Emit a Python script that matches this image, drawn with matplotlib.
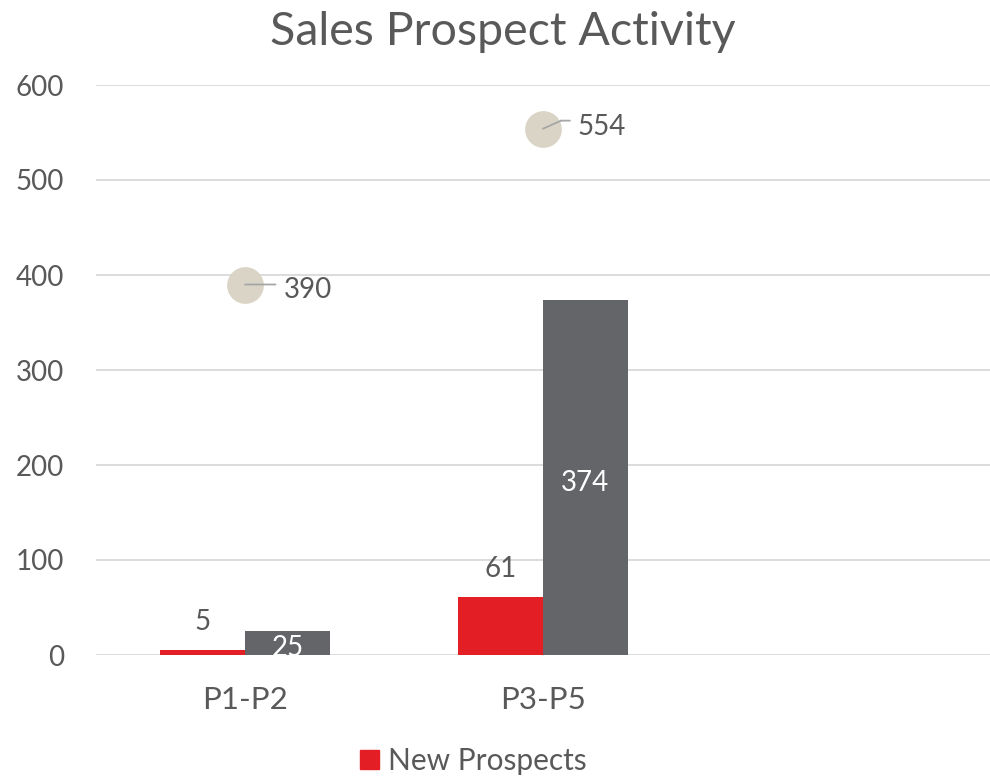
import matplotlib
matplotlib.use("Agg")
import matplotlib.pyplot as plt
from matplotlib.patches import Patch
from matplotlib.transforms import offset_copy
import numpy as np

plt.rcParams['font.family'] = ['Lato', 'DejaVu Sans']

categories = ["P1-P2", "P3-P5", ""]
new_prospects = [5, 61]
series2 = [25, 374]
bubble_values = [390, 554]
yticks = [0, 100, 200, 300, 400, 500, 600]

TEXT = "#595959"
RED = "#e31e24"
GRAY = "#636569"
BEIGE = "#d9d4c5"
GRID = "#d9d9d9"
LEADER = "#a6a6a6"
FS = 20

fig = plt.figure(figsize=(9.9, 7.78), dpi=100)
ax = fig.add_axes([96/990, 1-655/778, (990-96)/990, (655-85)/778])

x = np.arange(len(categories))
n = len(new_prospects)
w = 0.285
ax.bar(x[:n] - w/2, new_prospects, w, color=RED, zorder=3)
ax.bar(x[:n] + w/2, series2, w, color=GRAY, zorder=3)

ax.scatter(x[:n], bubble_values, s=700, color=BEIGE, zorder=4, linewidths=0)

ax.set_xlim(-0.5, 2.5)
ax.set_ylim(0, 600)
ax.set_yticks(yticks)
ax.set_xticks(x)
ax.set_xticklabels(categories, fontsize=22.5)
ax.grid(axis='y', color=GRID, linewidth=1.3, zorder=0)
ax.set_axisbelow(True)
for s in ax.spines.values():
    s.set_visible(False)
ax.tick_params(axis='both', length=0, colors=TEXT)
ax.tick_params(axis='y', pad=23, labelsize=FS)
ax.tick_params(axis='x', pad=22)

# data labels above red bars
for xi, v in zip(x[:n] - w/2, new_prospects):
    ax.annotate(str(v), (xi, v), xytext=(0, 14.4), textcoords='offset points',
                ha='center', va='baseline', fontsize=FS, color=TEXT, zorder=5)
# data labels centered in gray bars
for xi, v in zip(x[:n] + w/2, series2):
    ax.annotate(str(v), (xi, v/2), xytext=(0, -9.5), textcoords='offset points',
                ha='center', va='baseline', fontsize=FS, color='white', zorder=5)

# bubble labels with leader lines (offsets in points)
leader = [((0, 0), (22, 0)), ((13, 5.8), (19.4, 5.8))]
text_off = [(28, -9.4), (25, -4.3)]
for xi, v, (elbow, end), toff in zip(x[:n], bubble_values, leader, text_off):
    ax.annotate(str(v), (xi, v), xytext=toff, textcoords='offset points',
                ha='left', va='baseline', fontsize=FS, color=TEXT, zorder=6)
    pts = [(0, 0), elbow, end]
    for p0, p1 in zip(pts[:-1], pts[1:]):
        if p0 == p1:
            continue
        t0 = offset_copy(ax.transData, fig=fig, x=p0[0], y=p0[1], units='points')
        t1 = offset_copy(ax.transData, fig=fig, x=p1[0], y=p1[1], units='points')
        ax.annotate("", xy=(xi, v), xycoords=t0, xytext=(xi, v), textcoords=t1,
                    arrowprops=dict(arrowstyle='-', color=LEADER, lw=1.3,
                                    shrinkA=0, shrinkB=0), zorder=5)

fig.text(503/990, 1-32/778, "Sales Prospect Activity", ha='center', va='center',
         fontsize=33.5, color=TEXT)

fig.legend(handles=[Patch(color=RED, label="New Prospects")],
           loc='center', bbox_to_anchor=(473/990, 1-761/778), frameon=False,
           fontsize=21.5, labelcolor=TEXT, handlelength=0.65, handleheight=0.65,
           handletextpad=0.3)

fig.savefig("out.png", dpi=100)
